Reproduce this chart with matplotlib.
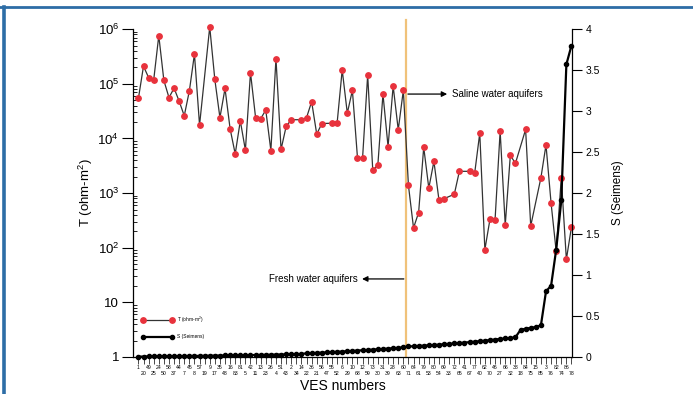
import matplotlib
matplotlib.use("Agg")
import matplotlib.pyplot as plt
from matplotlib.ticker import FixedLocator, FixedFormatter, FuncFormatter, LogLocator, NullFormatter
from matplotlib.lines import Line2D

plt.rcParams['font.family'] = ['Liberation Sans', 'DejaVu Sans']
plt.rcParams['mathtext.default'] = 'regular'

# VES station numbers along the x axis (sorted by conductance); upper and lower label rows
ves_top = [1, 49, 24, 58, 44, 45, 57, 9, 35, 16,
           81, 42, 13, 26, 51, 2, 14, 36, 56, 55,
           6, 10, 12, 73, 31, 28, 60, 64, 79, 80,
           69, 72, 41, 77, 62, 46, 66, 38, 84, 15,
           3, 82, 86]
ves_bottom = [20, 25, 50, 37, 7, 8, 19, 17, 48, 83,
              5, 11, 23, 4, 43, 34, 22, 21, 47, 52,
              29, 68, 59, 30, 39, 63, 71, 61, 53, 54,
              33, 65, 67, 40, 70, 27, 32, 18, 75, 85,
              76, 74, 78]

# Transverse resistance T (ohm-m^2); None where no value was computed
transmissivity = [5.4e4, 2.1e5, 1.3e5, 1.17e5, 7.6e5, 1.15e5, 5.6e4, 8.3e4, 4.8e4, 2.6e4,
                  7.4e4, 3.5e5, 1.75e4, None, 1.1e6, 1.2e5, 2.4e4, 8.2e4, 1.5e4, 5.2e3,
                  2.1e4, 6.1e3, 1.6e5, 2.4e4, 2.3e4, 3.3e4, 6.0e3, 2.9e5, 6.3e3, 1.66e4,
                  2.2e4, None, 2.2e4, 2.4e4, 4.7e4, 1.2e4, 1.87e4, None, 1.9e4, 1.9e4,
                  1.8e5, 2.9e4, 7.6e4, 4.4e3, 4.4e3, 1.45e5, 2.6e3, 3.3e3, 6.5e4, 7.1e3,
                  9.1e4, 1.44e4, 7.6e4, 1.38e3, 2.3e2, 4.4e2, 6.9e3, 1.23e3, 3.8e3, 7.4e2,
                  7.9e2, None, 9.5e2, 2.5e3, None, 2.5e3, 2.3e3, 1.25e4, 92, 3.3e2,
                  3.2e2, 1.36e4, 2.6e2, 4.9e3, 3.5e3, None, 1.46e4, 2.5e2, None, 1.9e3,
                  7.6e3, 6.5e2, 86, 1.9e3, 61, 2.4e2]

# Longitudinal conductance S (Siemens)
conductance = [0.004, 0.005, 0.006, 0.007, 0.008, 0.008, 0.009, 0.010, 0.010, 0.011,
               0.012, 0.013, 0.013, 0.014, 0.015, 0.016, 0.017, 0.018, 0.019, 0.020,
               0.021, 0.022, 0.023, 0.024, 0.025, 0.026, 0.027, 0.029, 0.030, 0.031,
               0.033, 0.034, 0.036, 0.045, 0.047, 0.050, 0.053, 0.056, 0.060, 0.063,
               0.066, 0.070, 0.074, 0.078, 0.082, 0.086, 0.090, 0.094, 0.098, 0.102,
               0.107, 0.112, 0.118, 0.128, 0.131, 0.135, 0.138, 0.142, 0.146, 0.150,
               0.155, 0.160, 0.165, 0.170, 0.175, 0.181, 0.187, 0.193, 0.199, 0.206,
               0.213, 0.220, 0.226, 0.232, 0.240, 0.330, 0.345, 0.355, 0.365, 0.385,
               0.80, 0.87, 1.31, 1.91, 3.57, 3.80]

t_ticks = [1, 10, 1e2, 1e3, 1e4, 1e5, 1e6]
t_tick_labels = ['1', '10', '$10^2$', '$10^3$', '$10^4$', '$10^5$', '$10^6$']
s_ticks = [0, 0.5, 1, 1.5, 2, 2.5, 3, 3.5, 4]

n = len(conductance)
xs = list(range(n))
ves_labels = [str(ves_top[i // 2]) if i % 2 == 0 else '\n' + str(ves_bottom[i // 2])
              for i in range(n)]
t_x = [i for i, v in enumerate(transmissivity) if v is not None]
t_y = [v for v in transmissivity if v is not None]
boundary = 52.5  # between the last saline and first fresh station

fig = plt.figure(figsize=(6.93, 3.94), dpi=100)
ax = fig.add_axes([0.192, 0.094, 0.633, 0.832])
ax2 = ax.twinx()

# T on log scale
ax.plot(t_x, t_y, '-', color='#333333', lw=0.9, marker='o', ms=3.9,
        mfc='#e8323c', mec='#e8323c', clip_on=False, zorder=3,
        label='T (ohm-m$^2$)')
ax.set_yscale('log')
ax.set_ylim(1, 1e6)
ax.set_xlim(-1.05, 85.05)
ax.yaxis.set_major_locator(FixedLocator(t_ticks))
ax.yaxis.set_major_formatter(FixedFormatter(t_tick_labels))
ax.yaxis.set_minor_locator(LogLocator(base=10, subs=range(2, 10), numticks=20))
ax.yaxis.set_minor_formatter(NullFormatter())
ax.tick_params(axis='y', which='major', direction='out', length=8, width=0.8,
               labelsize=9.5, pad=2)
ax.tick_params(axis='y', which='minor', direction='in', length=3, width=0.6)
ax.set_xticks(xs)
ax.set_xticklabels(ves_labels, fontsize=3.7, linespacing=1.1)
ax.tick_params(axis='x', direction='out', length=5, width=0.5, pad=1)
ax.spines['top'].set_visible(False)
ax.spines['right'].set_visible(False)
for s in ('left', 'bottom'):
    ax.spines[s].set_linewidth(0.9)

ax.axvline(boundary, ymin=0, ymax=1.027, color='#f0c27a', lw=1.6, clip_on=False, zorder=2)

# S on linear scale
ax2.plot(xs, conductance, '-', color='black', lw=1.6, marker='o', ms=3.0,
         clip_on=False, zorder=3, label='S (Seimens)')
ax2.set_ylim(0, 4)
ax2.yaxis.set_major_locator(FixedLocator(s_ticks))
ax2.yaxis.set_major_formatter(FuncFormatter(lambda v, p: '%g' % v))
ax2.tick_params(axis='y', direction='out', length=7, width=0.8, labelsize=7.5, pad=3)
ax2.spines['top'].set_visible(False)
ax2.spines['left'].set_visible(False)
ax2.spines['bottom'].set_visible(False)
ax2.spines['right'].set_linewidth(0.9)

ax.set_ylabel('T (ohm-m$^2$)', fontsize=9.5)
ax.yaxis.set_label_coords(-0.087, 0.5)
ax2.set_ylabel('S (Seimens)', fontsize=8.5)
ax2.yaxis.set_label_coords(1.091, 0.5)
ax.set_xlabel('VES numbers', fontsize=10)
ax.xaxis.set_label_coords(0.478, -0.066)

# Boundary annotations
yc = ('data', 'axes fraction')
ax.annotate('', xy=(60.6, 0.802), xytext=(52.9, 0.802), xycoords=yc, textcoords=yc,
            arrowprops=dict(arrowstyle='-|>', color='black', lw=0.9, mutation_scale=8,
                            shrinkA=0, shrinkB=0))
ax.annotate('Saline water aquifers', xy=(61.6, 0.802), xycoords=yc,
            ha='left', va='center', fontsize=7)
ax.annotate('', xy=(43.9, 0.238), xytext=(52.1, 0.238), xycoords=yc, textcoords=yc,
            arrowprops=dict(arrowstyle='-|>', color='black', lw=0.9, mutation_scale=8,
                            shrinkA=0, shrinkB=0))
ax.annotate('Fresh water aquifers', xy=(43.1, 0.238), xycoords=yc,
            ha='right', va='center', fontsize=7)

h1, l1 = ax.get_legend_handles_labels()
h2, l2 = ax2.get_legend_handles_labels()
ax2.legend(h1 + h2, l1 + l2, loc='lower left', bbox_to_anchor=(0.01, 0.04),
           fontsize=3.5, numpoints=2, handlelength=6.5, labelspacing=1.9,
           frameon=False, handletextpad=0.8)

# Page border
border = '#2d6da6'
fig.add_artist(Line2D([0, 1], [1 - 6.5 / 394] * 2, transform=fig.transFigure,
                      color=border, lw=2.0))
fig.add_artist(Line2D([3.5 / 693] * 2, [0, 1 - 6.5 / 394], transform=fig.transFigure,
                      color=border, lw=2.6))

fig.savefig('out.png', dpi=100)
